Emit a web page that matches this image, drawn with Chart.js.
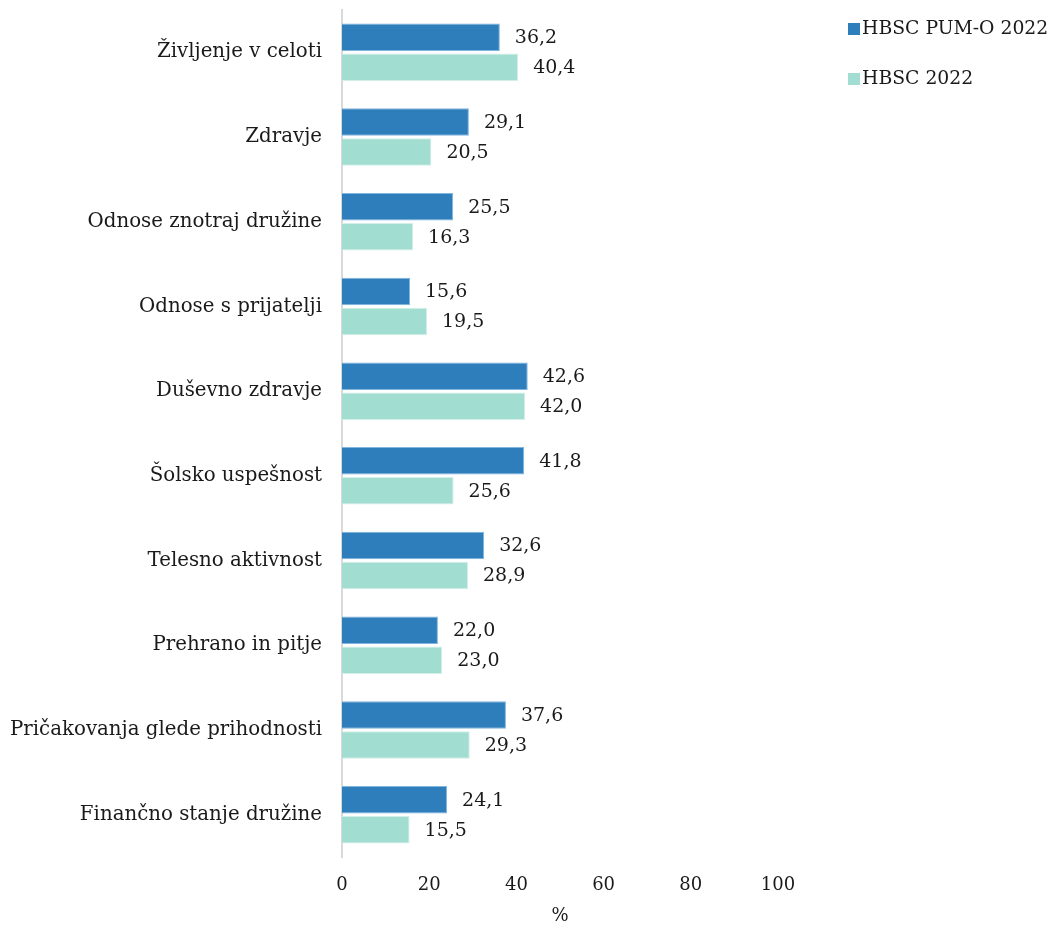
<!DOCTYPE html>
<html>
<head>
<meta charset="utf-8">
<script src="https://cdn.jsdelivr.net/npm/chart.js@4/dist/chart.umd.min.js"></script>
<style>
  html, body { margin: 0; padding: 0; background: #ffffff; }
  #wrap { position: relative; width: 1051px; height: 927px; }
</style>
</head>
<body>
<div id="wrap"><canvas id="c"></canvas></div>
<script>
// Categories (vertical axis, top to bottom)
const categories = [
  'Življenje v celoti',
  'Zdravje',
  'Odnose znotraj družine',
  'Odnose s prijatelji',
  'Duševno zdravje',
  'Šolsko uspešnost',
  'Telesno aktivnost',
  'Prehrano in pitje',
  'Pričakovanja glede prihodnosti',
  'Finančno stanje družine'
];

// Series values (%)
const pumo2022 = [36.2, 29.1, 25.5, 15.6, 42.6, 41.8, 32.6, 22.0, 37.6, 24.1];
const hbsc2022 = [40.4, 20.5, 16.3, 19.5, 42.0, 25.6, 28.9, 23.0, 29.3, 15.5];

const seriesNames = ['HBSC PUM-O 2022', 'HBSC 2022'];
const xTicks = [0, 20, 40, 60, 80, 100];
const xTitle = '%';

const FONT = "'DejaVu Serif', serif";
const TEXT = '#1a1a1a';

// Value labels at the end of each bar, with decimal comma
const valueLabels = {
  id: 'valueLabels',
  afterDatasetsDraw(chart) {
    const ctx = chart.ctx;
    ctx.save();
    ctx.font = '19px ' + FONT;
    ctx.fillStyle = TEXT;
    ctx.textAlign = 'left';
    ctx.textBaseline = 'middle';
    chart.data.datasets.forEach((ds, i) => {
      const meta = chart.getDatasetMeta(i);
      meta.data.forEach((bar, j) => {
        const v = ds.data[j];
        ctx.fillText(v.toFixed(1).replace('.', ','), bar.x + 15, bar.y + 1);
      });
    });
    ctx.restore();
  }
};

// Legend drawn in the top-right corner
const sideLegend = {
  id: 'sideLegend',
  afterDraw(chart) {
    const ctx = chart.ctx;
    ctx.save();
    ctx.font = '18.8px ' + FONT;
    ctx.textAlign = 'left';
    ctx.textBaseline = 'middle';
    chart.data.datasets.forEach((ds, i) => {
      const y = 29 + i * 50;
      ctx.fillStyle = ds.backgroundColor;
      ctx.fillRect(848, y - 6, 12, 12);
      ctx.fillStyle = TEXT;
      ctx.fillText(ds.label, 862, y);
    });
    ctx.restore();
  }
};

new Chart(document.getElementById('c'), {
  type: 'bar',
  data: {
    labels: categories,
    datasets: [
      {
        label: seriesNames[0],
        data: pumo2022,
        backgroundColor: '#2e7ebb',
        borderColor: '#7fb5de',
        borderWidth: 1,
        barPercentage: 0.917,
        categoryPercentage: 0.708
      },
      {
        label: seriesNames[1],
        data: hbsc2022,
        backgroundColor: '#a1ddd0',
        borderColor: '#d2efe8',
        borderWidth: 1,
        barPercentage: 0.917,
        categoryPercentage: 0.708
      }
    ]
  },
  options: {
    indexAxis: 'y',
    responsive: true,
    maintainAspectRatio: false,
    animation: false,
    layout: { padding: { left: 0, right: 273, top: 10, bottom: 0 } },
    plugins: {
      legend: { display: false },
      tooltip: { enabled: false }
    },
    scales: {
      x: {
        min: 0,
        max: 100,
        afterBuildTicks(scale) { scale.ticks = xTicks.map(v => ({ value: v })); },
        afterFit(scale) { scale.height = 70; scale.paddingLeft = 0; scale.paddingRight = 0; },
        grid: { display: false, drawTicks: false },
        border: { display: false },
        ticks: { color: TEXT, font: { family: FONT, size: 18 }, padding: 18 },
        title: {
          display: true,
          text: xTitle,
          color: TEXT,
          font: { family: FONT, size: 18 },
          padding: { top: 7, bottom: 0 }
        }
      },
      y: {
        afterFit(scale) { scale.width = 342; scale.paddingTop = 0; scale.paddingBottom = 0; },
        grid: { display: false, drawTicks: false },
        border: { display: true, color: '#d9d9d9', width: 2 },
        ticks: { color: TEXT, font: { family: FONT, size: 19.8 }, padding: 20 }
      }
    }
  },
  plugins: [valueLabels, sideLegend]
});
</script>
</body>
</html>
